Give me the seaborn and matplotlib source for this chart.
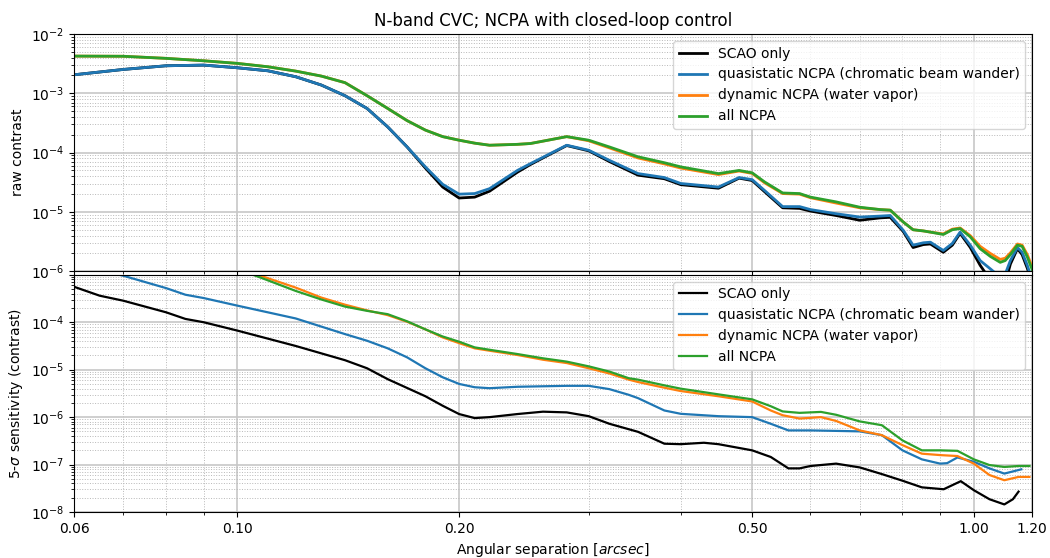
import numpy as np
import matplotlib
matplotlib.use("Agg")
import matplotlib.pyplot as plt
import matplotlib.ticker as mticker
import seaborn as sns

# ---------------- data (log10 of contrast) ----------------
labels = ["SCAO only", "quasistatic NCPA (chromatic beam wander)",
          "dynamic NCPA (water vapor)", "all NCPA"]
colors = ["black", "#1f77b4", "#ff7f0e", "#2ca02c"]

top_x = [0.06, 0.07, 0.08, 0.09, 0.10, 0.11, 0.12, 0.13, 0.14, 0.15, 0.16, 0.17, 0.18,
         0.19, 0.20, 0.21, 0.22, 0.24, 0.25, 0.28, 0.30, 0.32, 0.35, 0.38, 0.40, 0.45,
         0.48, 0.50, 0.52, 0.55, 0.58, 0.60, 0.65, 0.70, 0.746, 0.77, 0.802, 0.827,
         0.854, 0.873, 0.909, 0.935, 0.958, 0.989, 1.02, 1.053, 1.086, 1.103, 1.121,
         1.146, 1.163, 1.182, 1.20]

top_black_log = [-2.687, -2.597, -2.535, -2.524, -2.569, -2.62, -2.72, -2.86, -3.04, -3.255,
                 -3.566, -3.904, -4.26, -4.58, -4.765, -4.75, -4.65, -4.33, -4.20, -3.88,
                 -3.97, -4.15, -4.38, -4.44, -4.54, -4.60, -4.43, -4.47, -4.66, -4.93, -4.94,
                 -4.985, -5.06, -5.14, -5.10, -5.09, -5.33, -5.60, -5.55, -5.54, -5.68, -5.56,
                 -5.36, -5.60, -5.90, -6.15, -6.30, -6.20, -5.88, -5.62, -5.72, -5.95, -6.20]
top_blue_log = [-2.687, -2.597, -2.535, -2.524, -2.569, -2.62, -2.72, -2.86, -3.04, -3.255,
                -3.566, -3.904, -4.24, -4.534, -4.70, -4.69, -4.607, -4.30, -4.185, -3.875,
                -3.96, -4.13, -4.353, -4.42, -4.52, -4.58, -4.42, -4.455, -4.64, -4.91, -4.91,
                -4.96, -5.03, -5.086, -5.07, -5.06, -5.31, -5.56, -5.52, -5.51, -5.65, -5.53,
                -5.34, -5.56, -5.82, -5.96, -6.10, -6.05, -5.82, -5.60, -5.68, -5.90, -6.15]
top_orange_log = [-2.372, -2.375, -2.41, -2.451, -2.495, -2.552, -2.625, -2.709, -2.82, -3.04,
                  -3.255, -3.46, -3.62, -3.73, -3.79, -3.84, -3.875, -3.86, -3.846, -3.73,
                  -3.80, -3.92, -4.09, -4.19, -4.26, -4.37, -4.31, -4.35, -4.51, -4.69, -4.70,
                  -4.76, -4.85, -4.93, -4.96, -4.97, -5.17, -5.30, -5.32, -5.34, -5.37, -5.29,
                  -5.27, -5.40, -5.58, -5.70, -5.80, -5.78, -5.69, -5.54, -5.56, -5.72, -5.93]
top_green_log = [-2.372, -2.375, -2.41, -2.451, -2.495, -2.552, -2.625, -2.709, -2.82, -3.04,
                 -3.255, -3.46, -3.62, -3.73, -3.79, -3.84, -3.875, -3.86, -3.846, -3.73,
                 -3.79, -3.904, -4.07, -4.17, -4.24, -4.353, -4.30, -4.34, -4.495, -4.68, -4.69,
                 -4.75, -4.83, -4.92, -4.96, -4.97, -5.17, -5.30, -5.32, -5.34, -5.38, -5.30,
                 -5.28, -5.42, -5.62, -5.75, -5.85, -5.82, -5.72, -5.56, -5.58, -5.76, -5.97]

bot_black_x = [0.06, 0.065, 0.07, 0.08, 0.085, 0.09, 0.10, 0.12, 0.14, 0.15, 0.16, 0.18, 0.19,
               0.20, 0.21, 0.22, 0.24, 0.26, 0.28, 0.30, 0.32, 0.35, 0.38, 0.40, 0.43, 0.45,
               0.50, 0.53, 0.56, 0.58, 0.60, 0.65, 0.70, 0.75, 0.80, 0.85, 0.91, 0.96, 1.00,
               1.05, 1.10, 1.13, 1.15]
bot_black_log = [-3.252, -3.44, -3.546, -3.79, -3.93, -4.0, -4.176, -4.50, -4.80, -4.97, -5.2,
                 -5.56, -5.76, -5.935, -6.02, -6.0, -5.935, -5.885, -5.9, -5.98, -6.14, -6.31,
                 -6.56, -6.57, -6.54, -6.57, -6.70, -6.84, -7.08, -7.08, -7.03, -6.98, -7.06,
                 -7.2, -7.34, -7.48, -7.52, -7.35, -7.54, -7.73, -7.84, -7.73, -7.57]

bot_blue_x = [0.06, 0.065, 0.07, 0.08, 0.085, 0.09, 0.10, 0.12, 0.14, 0.15, 0.16, 0.17, 0.18,
              0.19, 0.20, 0.21, 0.22, 0.24, 0.28, 0.30, 0.32, 0.34, 0.35, 0.38, 0.40, 0.45,
              0.50, 0.53, 0.56, 0.60, 0.65, 0.70, 0.75, 0.80, 0.85, 0.90, 0.92, 0.95, 1.00,
              1.05, 1.10, 1.16]
bot_blue_log = [-2.75, -2.9, -3.02, -3.28, -3.42, -3.49, -3.65, -3.92, -4.25, -4.39, -4.55,
                -4.74, -4.97, -5.16, -5.30, -5.37, -5.39, -5.36, -5.34, -5.34, -5.41, -5.53,
                -5.60, -5.86, -5.93, -5.98, -6.0, -6.14, -6.28, -6.28, -6.29, -6.30, -6.38,
                -6.70, -6.89, -6.98, -6.97, -6.85, -6.94, -7.08, -7.19, -7.10]

bot_ncpa_x = [0.10, 0.108, 0.12, 0.13, 0.14, 0.15, 0.16, 0.17, 0.18, 0.19, 0.20, 0.21, 0.22,
              0.24, 0.26, 0.28, 0.30, 0.32, 0.34, 0.35, 0.38, 0.40, 0.45, 0.50, 0.53, 0.55,
              0.58, 0.62, 0.65, 0.70, 0.75, 0.80, 0.85, 0.90, 0.95, 1.00, 1.05, 1.10, 1.15,
              1.19]
bot_orange_log = [-2.85, -3.03, -3.27, -3.48, -3.63, -3.75, -3.85, -3.99, -4.15, -4.32, -4.44,
                  -4.55, -4.60, -4.69, -4.79, -4.86, -4.97, -5.08, -5.21, -5.26, -5.38, -5.45,
                  -5.56, -5.67, -5.86, -5.96, -6.03, -6.0, -6.08, -6.28, -6.38, -6.59, -6.77,
                  -6.80, -6.82, -6.98, -7.22, -7.33, -7.26, -7.26]
bot_green_log = [-2.88, -3.07, -3.34, -3.52, -3.67, -3.76, -3.83, -3.98, -4.15, -4.30, -4.41,
                 -4.53, -4.58, -4.67, -4.76, -4.83, -4.93, -5.04, -5.18, -5.21, -5.33, -5.40,
                 -5.52, -5.625, -5.77, -5.88, -5.91, -5.89, -5.95, -6.09, -6.17, -6.49, -6.70,
                 -6.70, -6.71, -6.89, -7.01, -7.05, -7.03, -7.03]

xticks = [0.06, 0.10, 0.20, 0.50, 1.00, 1.20]
xticklabels = ["0.06", "0.10", "0.20", "0.50", "1.00", "1.20"]
top_yticks = [1e-6, 1e-5, 1e-4, 1e-3, 1e-2]
bot_yticks = [1e-8, 1e-7, 1e-6, 1e-5, 1e-4, 1e-3]

# ---------------- figure ----------------
plt.rcParams["font.family"] = ["DejaVu Sans"]
fig, (ax1, ax2) = plt.subplots(2, 1, sharex=True, figsize=(10.5, 5.58), dpi=100)
fig.subplots_adjust(left=0.0705, right=0.983, top=0.939, bottom=0.0824, hspace=0.015)

top_series = [(top_x, top_black_log), (top_x, top_blue_log),
              (top_x, top_orange_log), (top_x, top_green_log)]
bot_series = [(bot_black_x, bot_black_log), (bot_blue_x, bot_blue_log),
              (bot_ncpa_x, bot_orange_log), (bot_ncpa_x, bot_green_log)]

for (xs, ys), c, lab in zip(top_series, colors, labels):
    sns.lineplot(x=np.array(xs), y=10.0 ** np.array(ys), ax=ax1, color=c, lw=2.0,
                 label=lab, estimator=None, sort=False)
for (xs, ys), c, lab in zip(bot_series, colors, labels):
    sns.lineplot(x=np.array(xs), y=10.0 ** np.array(ys), ax=ax2, color=c, lw=1.6,
                 label=lab, estimator=None, sort=False)


def sci_label(v, pos, skip_top=None):
    if skip_top is not None and v >= skip_top * 0.99:
        return ""
    return r"$\mathdefault{10^{%d}}$" % int(round(np.log10(v)))


for ax, yt, skip in ((ax1, top_yticks, None), (ax2, bot_yticks, 1e-3)):
    ax.set_xscale("log")
    ax.set_yscale("log")
    ax.set_xlim(0.06, 1.2)
    ax.set_ylim(yt[0], yt[-1])
    ax.yaxis.set_major_locator(mticker.FixedLocator(yt))
    ax.yaxis.set_major_formatter(mticker.FuncFormatter(
        lambda v, p, s=skip: sci_label(v, p, s)))
    ax.yaxis.set_minor_locator(mticker.LogLocator(base=10, subs=np.arange(2, 10), numticks=20))
    ax.yaxis.set_minor_formatter(mticker.NullFormatter())
    ax.grid(True, which="major", color="0.78", lw=1.2, ls="-")
    ax.grid(True, which="minor", color="0.72", lw=0.7, ls=":")
    ax.set_axisbelow(True)
    ax.legend(loc="upper right", fontsize=10)

ax2.xaxis.set_major_locator(mticker.FixedLocator(xticks))
ax2.xaxis.set_major_formatter(mticker.FixedFormatter(xticklabels))
ax2.xaxis.set_minor_formatter(mticker.NullFormatter())
ax1.tick_params(labelbottom=False)

ax1.set_ylabel("raw contrast", fontsize=10)
ax2.set_ylabel(r"5-$\sigma$ sensitivity (contrast)", fontsize=10)
ax2.set_xlabel(r"Angular separation [$arcsec$]", fontsize=10)
ax1.set_title("N-band CVC; NCPA with closed-loop control", fontsize=12)

fig.savefig("out.png", dpi=100)
